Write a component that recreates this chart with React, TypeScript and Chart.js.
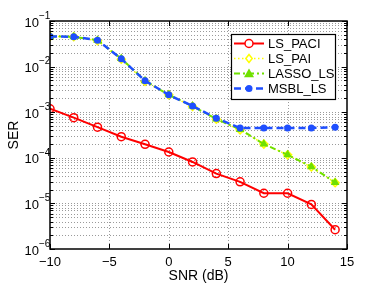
import React, { useEffect, useRef } from 'react';
import { Chart, registerables } from 'chart.js';
Chart.register(...registerables);

const snr = [-10, -8, -6, -4, -2, 0, 2, 4, 6, 8, 10, 12, 14];
const lsPaci = [1.19e-3, 7.6e-4, 4.7e-4, 2.9e-4, 1.98e-4, 1.34e-4, 8.1e-5, 4.5e-5, 2.97e-5, 1.67e-5, 1.67e-5, 9.5e-6, 2.65e-6];
const lsPai = [4.6e-2, 4.5e-2, 3.7e-2, 1.45e-2, 4.7e-3, 2.4e-3, 1.34e-3, 7.0e-4, 4.1e-4, 2.0e-4, 1.16e-4, 6.3e-5, 2.85e-5];
const lassoLs = [4.6e-2, 4.5e-2, 3.8e-2, 1.5e-2, 4.9e-3, 2.4e-3, 1.36e-3, 7.1e-4, 4.2e-4, 2.0e-4, 1.16e-4, 6.4e-5, 2.87e-5];
const msblLs = [4.6e-2, 4.5e-2, 3.8e-2, 1.48e-2, 4.9e-3, 2.4e-3, 1.36e-3, 7.4e-4, 4.5e-4, 4.5e-4, 4.5e-4, 4.5e-4, 4.7e-4];
const xTicks = [-10, -5, 0, 5, 10, 15];
const yDecades = [-6, -5, -4, -3, -2, -1];
const seriesNames = ['LS_PACI', 'LS_PAI', 'LASSO_LS', 'MSBL_LS'];
const xTitle = 'SNR (dB)';
const yTitle = 'SER';

const RED = '#ff0000';
const YEL = '#ffff00';
const GRN = '#6fe000';
const BLU = '#1f4fff';

const styles = [
  { color: RED, dash: [] as number[], width: 2, marker: 'circleHollow', r: 4 },
  { color: YEL, dash: [1.5, 2.5], width: 1.5, marker: 'diamond', r: 4 },
  { color: GRN, dash: [6, 3, 2, 3], width: 2, marker: 'triangle', r: 5 },
  { color: BLU, dash: [7, 4], width: 2.5, marker: 'circle', r: 3.5 },
];

const FONT = '"Liberation Sans", Arial, sans-serif';

function drawMarker(ctx: CanvasRenderingContext2D, kind: string, x: number, y: number, r: number, color: string) {
  ctx.save();
  ctx.setLineDash([]);
  ctx.strokeStyle = color;
  ctx.fillStyle = color;
  ctx.lineWidth = 1.5;
  ctx.beginPath();
  if (kind === 'circleHollow') {
    ctx.arc(x, y, r, 0, Math.PI * 2);
    ctx.fillStyle = '#fff';
    ctx.fill();
    ctx.stroke();
  } else if (kind === 'circle') {
    ctx.arc(x, y, r, 0, Math.PI * 2);
    ctx.fill();
  } else if (kind === 'diamond') {
    ctx.moveTo(x, y - r);
    ctx.lineTo(x + r * 0.8, y);
    ctx.lineTo(x, y + r);
    ctx.lineTo(x - r * 0.8, y);
    ctx.closePath();
    ctx.fillStyle = '#fff';
    ctx.fill();
    ctx.stroke();
  } else if (kind === 'triangle') {
    ctx.moveTo(x, y - r);
    ctx.lineTo(x + r, y + r * 0.75);
    ctx.lineTo(x - r, y + r * 0.75);
    ctx.closePath();
    ctx.fill();
  }
  ctx.restore();
}

const framePlugin = {
  id: 'matlabFrame',
  beforeDatasetsDraw(chart: any) {
    const { ctx, chartArea: a, scales } = chart;
    const xs = scales.x, ys = scales.y;
    ctx.save();
    ctx.strokeStyle = '#9a9a9a';
    ctx.lineWidth = 1;
    ctx.setLineDash([1, 2]);
    xTicks.forEach((t) => {
      if (t <= -10 || t >= 15) return;
      const px = Math.round(xs.getPixelForValue(t)) + 0.5;
      ctx.beginPath();
      ctx.moveTo(px, a.top);
      ctx.lineTo(px, a.bottom);
      ctx.stroke();
    });
    for (let d = -6; d < -1; d++) {
      for (let m = 1; m <= 9; m++) {
        if (d === -6 && m === 1) continue;
        const py = Math.round(ys.getPixelForValue(m * Math.pow(10, d))) + 0.5;
        ctx.beginPath();
        ctx.moveTo(a.left, py);
        ctx.lineTo(a.right, py);
        ctx.stroke();
      }
    }
    ctx.restore();
  },
  afterDatasetsDraw(chart: any) {
    const { ctx, chartArea: a, scales } = chart;
    const xs = scales.x, ys = scales.y;
    ctx.save();
    ctx.setLineDash([]);
    ctx.strokeStyle = '#000';
    ctx.lineWidth = 1;
    // ticks
    xTicks.forEach((t) => {
      const px = Math.round(xs.getPixelForValue(t)) + 0.5;
      ctx.beginPath();
      ctx.moveTo(px, a.bottom);
      ctx.lineTo(px, a.bottom - 5);
      ctx.moveTo(px, a.top);
      ctx.lineTo(px, a.top + 5);
      ctx.stroke();
    });
    for (let d = -6; d <= -1; d++) {
      for (let m = 1; m <= 9; m++) {
        if (d === -1 && m > 1) break;
        const py = Math.round(ys.getPixelForValue(m * Math.pow(10, d))) + 0.5;
        const len = m === 1 ? 5 : 3;
        ctx.beginPath();
        ctx.moveTo(a.left, py);
        ctx.lineTo(a.left + len, py);
        ctx.moveTo(a.right, py);
        ctx.lineTo(a.right - len, py);
        ctx.stroke();
      }
    }
    // frame
    ctx.lineWidth = 1.5;
    ctx.strokeRect(a.left, a.top, a.right - a.left, a.bottom - a.top);

    // x labels
    ctx.fillStyle = '#000';
    ctx.font = `13px ${FONT}`;
    ctx.textAlign = 'center';
    ctx.textBaseline = 'middle';
    xTicks.forEach((t) => {
      const px = xs.getPixelForValue(t);
      const s = t < 0 ? '\u2212' + Math.abs(t) : String(t);
      ctx.fillText(s, px, a.bottom + 13);
    });
    // y labels
    yDecades.forEach((d) => {
      const py = ys.getPixelForValue(Math.pow(10, d));
      ctx.font = `13px ${FONT}`;
      ctx.textAlign = 'right';
      ctx.fillText('10', a.left - 11, py + 2);
      ctx.font = `10px ${FONT}`;
      ctx.textAlign = 'left';
      ctx.fillText('\u2212' + Math.abs(d), a.left - 11, py - 5);
    });
    // titles
    ctx.font = `14px ${FONT}`;
    ctx.textAlign = 'center';
    ctx.fillText(xTitle, (a.left + a.right) / 2, a.bottom + 27);
    ctx.save();
    ctx.translate(14, (a.top + a.bottom) / 2);
    ctx.rotate(-Math.PI / 2);
    ctx.fillText(yTitle, 0, 0);
    ctx.restore();

    // legend
    const lx = 231, ly = 34, lw = 104, lh = 65;
    ctx.fillStyle = '#fff';
    ctx.fillRect(lx, ly, lw, lh);
    ctx.strokeStyle = '#000';
    ctx.lineWidth = 1.2;
    ctx.strokeRect(lx + 0.5, ly + 0.5, lw, lh);
    seriesNames.forEach((name, i) => {
      const st = styles[i];
      const y = ly + 9.5 + i * 15;
      ctx.save();
      ctx.strokeStyle = st.color;
      ctx.lineWidth = st.width;
      ctx.setLineDash(st.dash);
      ctx.beginPath();
      ctx.moveTo(234, y);
      ctx.lineTo(264, y);
      ctx.stroke();
      ctx.restore();
      drawMarker(ctx, st.marker, 249, y, st.r, st.color);
      ctx.fillStyle = '#000';
      ctx.font = `13px ${FONT}`;
      ctx.textAlign = 'left';
      ctx.textBaseline = 'middle';
      ctx.fillText(name, 268, y + 0.5);
    });
    ctx.restore();
  },
};

export default function App() {
  const ref = useRef<HTMLCanvasElement | null>(null);
  useEffect(() => {
    document.body.style.margin = '0';
    const toPts = (arr: number[]) => arr.map((v, i) => ({ x: snr[i], y: v }));
    const pointStyles: any[] = ['circle', 'rectRot', 'triangle', 'circle'];
    const seriesData = [lsPaci, lsPai, lassoLs, msblLs];
    const orders = [3, 2, 1, 0];
    const datasets = seriesNames.map((name, i) => {
      const st = styles[i];
      const hollow = st.marker === 'circleHollow' || st.marker === 'diamond';
      return {
        label: name,
        data: toPts(seriesData[i]),
        borderColor: st.color,
        backgroundColor: hollow ? '#ffffff' : st.color,
        borderWidth: st.width,
        borderDash: st.dash,
        pointStyle: pointStyles[i],
        pointRadius: st.r,
        pointBorderWidth: hollow ? 1.5 : 0,
        pointBorderColor: st.color,
        pointBackgroundColor: hollow ? 'rgba(255,255,255,0)' : st.color,
        fill: false,
        tension: 0,
        order: orders[i],
      };
    });
    const chart = new Chart(ref.current as HTMLCanvasElement, {
      type: 'line',
      data: { datasets },
      options: {
        animation: false,
        responsive: false,
        maintainAspectRatio: false,
        layout: { padding: { left: 0, right: 35, top: 21, bottom: 0 } },
        plugins: { legend: { display: false }, tooltip: { enabled: false } },
        scales: {
          x: {
            type: 'linear',
            min: -10,
            max: 15,
            grid: { display: false },
            border: { display: false },
            ticks: { display: false },
            afterFit: (s: any) => { s.height = 37; },
          },
          y: {
            type: 'logarithmic',
            min: 1e-6,
            max: 1e-1,
            grid: { display: false },
            border: { display: false },
            ticks: { display: false },
            afterFit: (s: any) => { s.width = 50; },
          },
        },
      } as any,
      plugins: [framePlugin],
    });
    return () => chart.destroy();
  }, []);
  return (
    <div style={{ width: 382, height: 286 }}>
      <canvas ref={ref} width={382} height={286} style={{ display: 'block' }} />
    </div>
  );
}
